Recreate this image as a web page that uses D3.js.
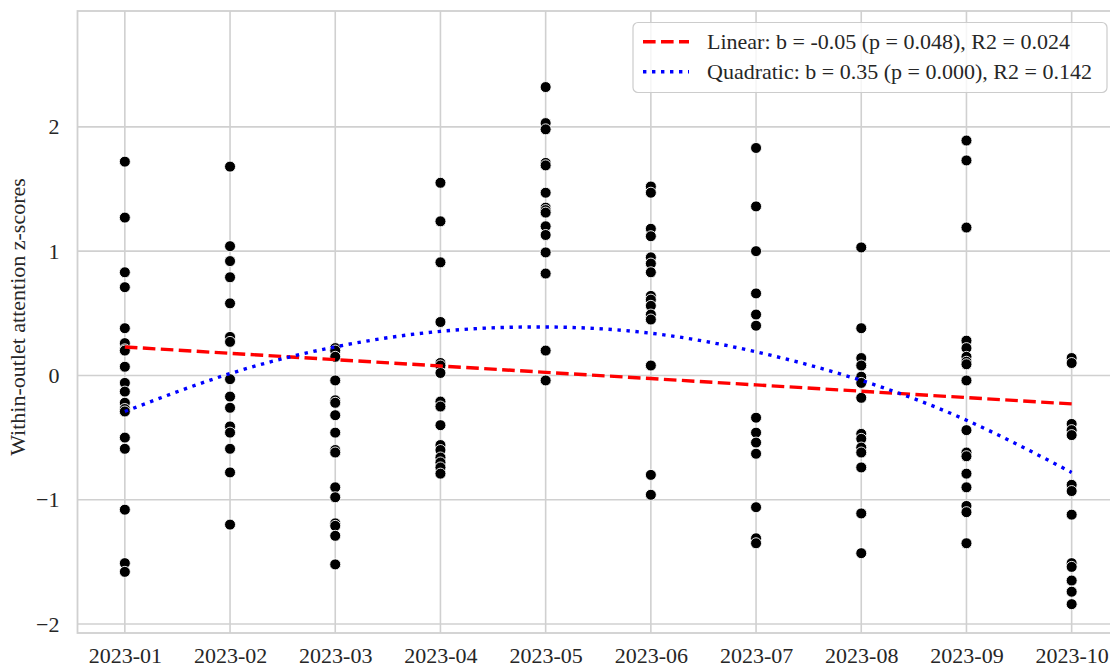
<!DOCTYPE html>
<html>
<head>
<meta charset="utf-8">
<script src="https://cdn.jsdelivr.net/npm/d3@7"></script>
<style>
  html, body { margin: 0; padding: 0; background: #ffffff; }
  svg { display: block; font-family: "Liberation Serif", "Times New Roman", serif; }
</style>
</head>
<body>
<svg id="chart" width="1110" height="667"></svg>
<script>
// ---- data ----
const months = ["2023-01","2023-02","2023-03","2023-04","2023-05","2023-06","2023-07","2023-08","2023-09","2023-10"];
const m01 = [1.72, 1.27, 0.83, 0.71, 0.38, 0.26, 0.21, 0.20, 0.07, -0.06, -0.13, -0.22, -0.27, -0.29, -0.50, -0.59, -1.08, -1.51, -1.58];
const m02 = [1.68, 1.04, 0.92, 0.79, 0.58, 0.31, 0.27, -0.03, -0.17, -0.26, -0.41, -0.46, -0.59, -0.78, -1.20];
const m03 = [0.22, 0.20, 0.15, -0.04, -0.20, -0.22, -0.32, -0.46, -0.60, -0.62, -0.90, -0.98, -1.19, -1.21, -1.29, -1.52];
const m04 = [1.55, 1.24, 0.91, 0.43, 0.10, 0.08, 0.02, -0.21, -0.25, -0.40, -0.56, -0.60, -0.66, -0.70, -0.74, -0.79];
const m05 = [2.32, 2.03, 1.98, 1.71, 1.69, 1.47, 1.35, 1.33, 1.31, 1.20, 1.13, 0.99, 0.82, 0.20, -0.04];
const m06 = [1.52, 1.47, 1.18, 1.12, 0.95, 0.90, 0.83, 0.64, 0.61, 0.56, 0.49, 0.45, 0.08, -0.80, -0.96];
const m07 = [1.83, 1.36, 1.00, 0.66, 0.49, 0.40, -0.34, -0.46, -0.54, -0.63, -1.06, -1.31, -1.35];
const m08 = [1.03, 0.38, 0.14, 0.08, -0.01, -0.06, -0.18, -0.47, -0.51, -0.58, -0.62, -0.74, -1.11, -1.43];
const m09 = [1.89, 1.73, 1.19, 0.28, 0.22, 0.15, 0.11, 0.09, -0.04, -0.44, -0.62, -0.65, -0.79, -0.90, -1.05, -1.10, -1.35];
const m10 = [0.14, 0.10, -0.39, -0.44, -0.48, -0.88, -0.93, -1.12, -1.51, -1.54, -1.65, -1.74, -1.84];
const linearFit = [0.229, 0.178, 0.127, 0.076, 0.025, -0.025, -0.076, -0.127, -0.178, -0.229];
const quadraticFit = [-0.29, 0.015, 0.23, 0.355, 0.39, 0.34, 0.19, -0.04, -0.36, -0.78];
const yTicks = [-2, -1, 0, 1, 2];
const yTickLabels = ["\u22122", "\u22121", "0", "1", "2"];
const legendLabels = ["Linear: b = -0.05 (p = 0.048), R2 = 0.024", "Quadratic: b = 0.35 (p = 0.000), R2 = 0.142"];
const yAxisLabel = "Within-outlet attention z-scores";

// ---- layout ----
const perMonth = [m01, m02, m03, m04, m05, m06, m07, m08, m09, m10];
const points = [];
perMonth.forEach((arr, i) => arr.forEach(v => points.push({ i, v })));

const svg = d3.select("#chart");
const pLeft = 77.5, pRight = 1119, pTop = 11, pBottom = 633;
const x = d3.scaleLinear().domain([-0.45, 9.45]).range([pLeft, pRight]);
const y = d3.scaleLinear().domain([-2.072, 2.932]).range([pBottom, pTop]);
const gridColor = "#d0d0d0";
const textColor = "#262626";
const fs = 22;

// gridlines
const g = svg.append("g");
g.selectAll("line.vg").data(months).enter().append("line")
  .attr("x1", (d, i) => x(i)).attr("x2", (d, i) => x(i))
  .attr("y1", pTop).attr("y2", pBottom)
  .attr("stroke", gridColor).attr("stroke-width", 1.6);
g.selectAll("line.hg").data(yTicks).enter().append("line")
  .attr("x1", pLeft).attr("x2", pRight)
  .attr("y1", d => y(d)).attr("y2", d => y(d))
  .attr("stroke", gridColor).attr("stroke-width", 1.6);

// spines
svg.append("rect").attr("x", pLeft).attr("y", pTop)
  .attr("width", pRight - pLeft).attr("height", pBottom - pTop)
  .attr("fill", "none").attr("stroke", gridColor).attr("stroke-width", 1.8);

// axis tick labels via d3 axes
const xAxis = d3.axisBottom(x).tickValues(d3.range(months.length))
  .tickFormat(i => months[i]).tickSize(0).tickPadding(18);
const xa = svg.append("g").attr("transform", `translate(0,${pBottom})`).call(xAxis);
xa.select(".domain").remove();
xa.selectAll("text").attr("font-size", fs).attr("fill", textColor)
  .attr("font-family", "Liberation Serif, Times New Roman, serif")
  .attr("dy", "0").attr("y", 29.5);

const yAxis = d3.axisLeft(y).tickValues(yTicks)
  .tickFormat((d, i) => yTickLabels[i]).tickSize(0).tickPadding(18);
const ya = svg.append("g").attr("transform", `translate(${pLeft},0)`).call(yAxis);
ya.select(".domain").remove();
ya.selectAll("text").attr("font-size", fs).attr("fill", textColor)
  .attr("font-family", "Liberation Serif, Times New Roman, serif");

// y label
svg.append("text")
  .attr("transform", `translate(25,${(pTop + pBottom) / 2 - 5}) rotate(-90)`)
  .attr("text-anchor", "middle")
  .attr("font-size", fs).attr("fill", textColor)
  .text(yAxisLabel);

// points
svg.append("g").selectAll("circle").data(points).enter().append("circle")
  .attr("cx", d => x(d.i)).attr("cy", d => y(d.v))
  .attr("r", 5.5).attr("fill", "#000").attr("stroke", "#fff").attr("stroke-width", 0.9);

// fit lines
const lineGen = d3.line().x((d, i) => x(i)).y(d => y(d));
svg.append("path").attr("d", lineGen(linearFit))
  .attr("fill", "none").attr("stroke", "#ff0000").attr("stroke-width", 3.4)
  .attr("stroke-dasharray", "12.6,5.4");
svg.append("path").attr("d", lineGen.curve(d3.curveNatural)(quadraticFit))
  .attr("fill", "none").attr("stroke", "#0000ff").attr("stroke-width", 3.4)
  .attr("stroke-dasharray", "3.4,5.6");

// legend
const lg = svg.append("g");
lg.append("rect").attr("x", 633).attr("y", 22.5).attr("width", 474).attr("height", 70)
  .attr("rx", 5).attr("fill", "#ffffff").attr("fill-opacity", 0.8)
  .attr("stroke", "#cccccc").attr("stroke-width", 1.2);
const styles = [
  { color: "#ff0000", dash: "12.6,5.4" },
  { color: "#0000ff", dash: "3.4,5.6" }
];
legendLabels.forEach((t, k) => {
  const cy = 41.7 + k * 30;
  lg.append("line").attr("x1", 643).attr("x2", 689).attr("y1", cy).attr("y2", cy)
    .attr("stroke", styles[k].color).attr("stroke-width", 3.4)
    .attr("stroke-dasharray", styles[k].dash);
  lg.append("text").attr("x", 707).attr("y", cy + 7.6)
    .attr("font-size", fs).attr("fill", textColor).text(t);
});
</script>
</body>
</html>
